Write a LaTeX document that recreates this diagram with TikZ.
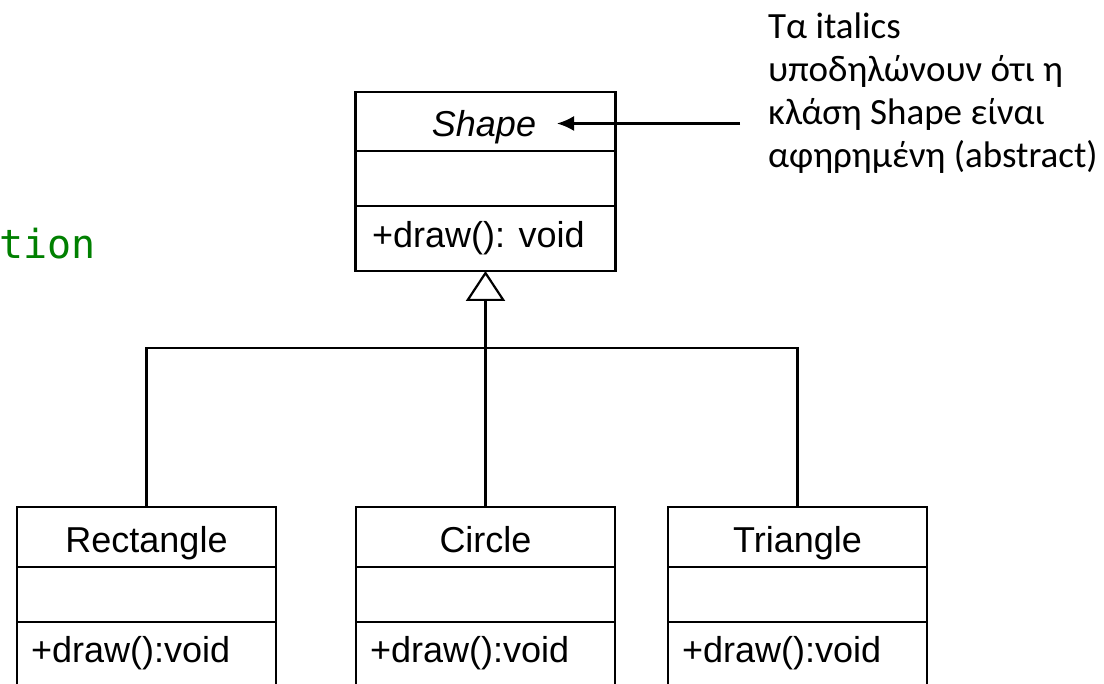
\documentclass[tikz,border=0pt]{standalone}
\usepackage{fontspec}
\setmainfont{Liberation Sans}
\newfontfamily\notefont{Carlito}
\newfontfamily\codefont{DejaVu Sans Mono}
\usetikzlibrary{arrows.meta}
\definecolor{codegreen}{RGB}{0,128,0}
\begin{document}
\begin{tikzpicture}[x=1pt,y=-1pt,
  comp/.style={draw=black, line width=2.2pt, minimum width=259pt, inner sep=0pt, outer sep=0pt},
  umltext/.style={font=\fontsize{36}{42}\selectfont, inner sep=0pt},
  wire/.style={draw=black, line width=2.2pt},
  notetext/.style={font=\notefont\fontsize{37}{43}\selectfont, align=left, inner sep=0pt},
  codetext/.style={font=\codefont\fontsize{40}{48}\selectfont, text=codegreen, inner sep=0pt}
]
\useasboundingbox (0,0) rectangle (1104,684);
\fill[white] (0,0) rectangle (1104,684);
\clip (0,0) rectangle (1104,684);

% fragment of code text at left edge
\node[codetext, anchor=base west] (codeFrag) at (-1,259) {tion};

% Shape class
\node[comp, minimum width=260pt, minimum height=59pt, anchor=north] (shapeName) at (485.5,92) {};
\node[comp, minimum width=260pt, minimum height=55pt, anchor=north] (shapeAttr) at (shapeName.south) {};
\node[comp, minimum width=260pt, minimum height=65pt, anchor=north] (shapeOps) at (shapeAttr.south) {};
\node[umltext, anchor=base] (shapeLabel) at (484,137) {\itshape Shape};
\node[umltext, anchor=base west] (shapeOp) at (372,248) {+draw(): void};

% Rectangle class
\node[comp, minimum height=60pt, anchor=north] (rectName) at (146.5,507) {};
\node[comp, minimum height=55pt, anchor=north] (rectAttr) at (rectName.south) {};
\node[comp, minimum height=70pt, anchor=north] (rectOps) at (rectAttr.south) {};
\node[umltext, anchor=base] (rectLabel) at (146.5,553) {Rectangle};
\node[umltext, anchor=base west] (rectOp) at (31,662) {+draw():void};

% Circle class
\node[comp, minimum height=60pt, anchor=north] (circName) at (485.5,507) {};
\node[comp, minimum height=55pt, anchor=north] (circAttr) at (circName.south) {};
\node[comp, minimum height=70pt, anchor=north] (circOps) at (circAttr.south) {};
\node[umltext, anchor=base] (circLabel) at (485.5,553) {Circle};
\node[umltext, anchor=base west] (circOp) at (370,662) {+draw():void};

% Triangle class
\node[comp, minimum height=60pt, anchor=north] (triName) at (797.5,507) {};
\node[comp, minimum height=55pt, anchor=north] (triAttr) at (triName.south) {};
\node[comp, minimum height=70pt, anchor=north] (triOps) at (triAttr.south) {};
\node[umltext, anchor=base] (triLabel) at (797.5,553) {Triangle};
\node[umltext, anchor=base west] (triOp) at (682,662) {+draw():void};

% generalization connectors
\coordinate (bus) at (485.5,348);
\draw[wire, -{Triangle[open, length=30pt, width=39pt]}] (circName.north) -- (shapeOps.south);
\draw[wire] (rectName.north) |- (bus) -| (triName.north);

% note and its arrow (base anchor = baseline of last line)
\node[notetext, anchor=base west] (note) at (768,167.5) {Τα italics\\υποδηλώνουν ότι η\\κλάση Shape είναι\\αφηρημένη (abstract)};
\coordinate (noteStart) at (740,123.5);
\coordinate (noteEnd) at (557,123.5);
\draw[wire, -{Latex[length=17pt,width=15pt]}] (noteStart) -- (noteEnd);
\end{tikzpicture}
\end{document}
